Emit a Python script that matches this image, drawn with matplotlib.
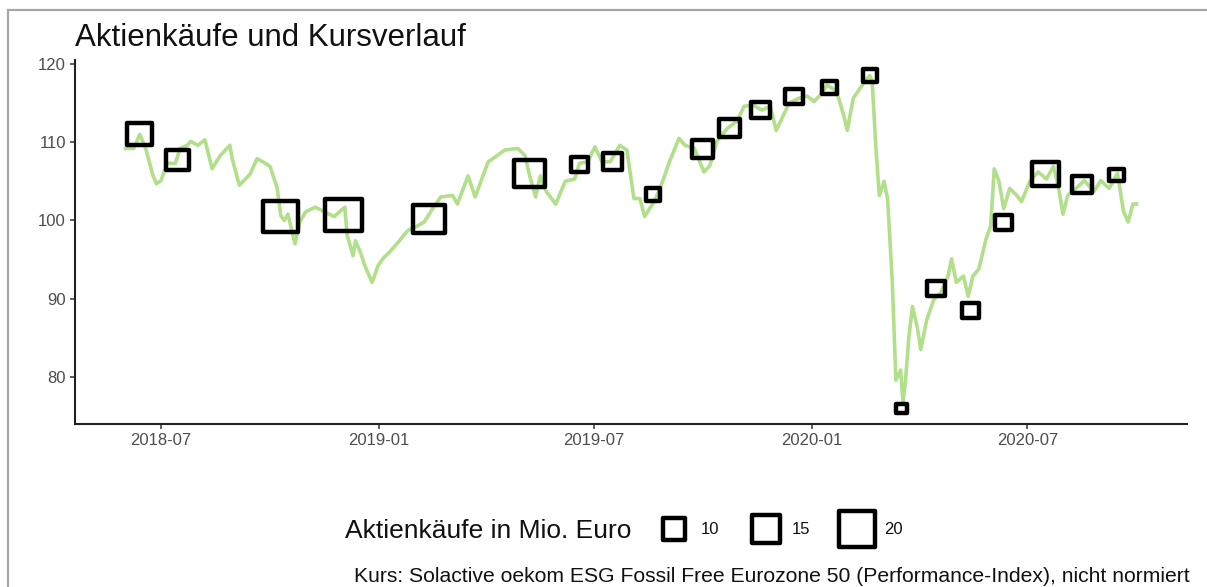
import numpy as np
import pandas as pd
import matplotlib
matplotlib.use('Agg')
from matplotlib import pyplot as plt
from matplotlib.lines import Line2D
from matplotlib.markers import MarkerStyle
from matplotlib.patches import Rectangle
from matplotlib.path import Path
import matplotlib.dates as mdates

plt.rcParams['font.family'] = ['Liberation Sans', 'DejaVu Sans']

# Kursverlauf
kurs_datum = [
    '2018-06-01', '2018-06-08', '2018-06-13', '2018-06-18', '2018-06-24', '2018-06-27',
    '2018-07-01', '2018-07-06', '2018-07-13', '2018-07-17', '2018-07-23', '2018-07-26',
    '2018-08-01', '2018-08-07', '2018-08-13', '2018-08-20', '2018-08-28', '2018-08-30',
    '2018-09-05', '2018-09-14', '2018-09-20', '2018-09-27', '2018-10-01', '2018-10-07',
    '2018-10-10', '2018-10-13', '2018-10-16', '2018-10-22', '2018-10-26', '2018-10-31',
    '2018-11-08', '2018-11-16', '2018-11-24', '2018-12-03', '2018-12-05', '2018-12-10',
    '2018-12-12', '2018-12-16', '2018-12-20', '2018-12-26', '2018-12-31', '2019-01-04',
    '2019-01-10', '2019-01-18', '2019-01-25', '2019-02-01', '2019-02-08', '2019-02-15',
    '2019-02-22', '2019-03-04', '2019-03-08', '2019-03-17', '2019-03-23', '2019-04-03',
    '2019-04-07', '2019-04-17', '2019-04-28', '2019-05-04', '2019-05-08', '2019-05-13',
    '2019-05-17', '2019-05-22', '2019-05-30', '2019-06-07', '2019-06-15', '2019-06-19',
    '2019-06-26', '2019-07-02', '2019-07-08', '2019-07-15', '2019-07-23', '2019-07-29',
    '2019-08-04', '2019-08-09', '2019-08-13', '2019-08-21', '2019-08-26', '2019-09-03',
    '2019-09-11', '2019-09-16', '2019-09-24', '2019-10-02', '2019-10-07', '2019-10-13',
    '2019-10-22', '2019-10-30', '2019-11-05', '2019-11-13', '2019-11-20', '2019-11-27',
    '2019-12-02', '2019-12-08', '2019-12-13', '2019-12-21', '2019-12-28', '2020-01-03',
    '2020-01-08', '2020-01-14', '2020-01-22', '2020-01-28', '2020-01-31', '2020-02-05',
    '2020-02-10', '2020-02-14', '2020-02-19', '2020-02-21', '2020-02-24', '2020-02-27',
    '2020-03-02', '2020-03-05', '2020-03-09', '2020-03-12', '2020-03-16', '2020-03-18',
    '2020-03-20', '2020-03-23', '2020-03-26', '2020-03-30', '2020-04-02', '2020-04-07',
    '2020-04-13', '2020-04-19', '2020-04-25', '2020-04-28', '2020-05-02', '2020-05-08',
    '2020-05-12', '2020-05-16', '2020-05-21', '2020-05-27', '2020-05-31', '2020-06-03',
    '2020-06-07', '2020-06-11', '2020-06-16', '2020-06-22', '2020-06-26', '2020-07-03',
    '2020-07-10', '2020-07-17', '2020-07-23', '2020-07-27', '2020-07-31', '2020-08-04',
    '2020-08-11', '2020-08-18', '2020-08-26', '2020-09-01', '2020-09-08', '2020-09-15',
    '2020-09-20', '2020-09-24', '2020-09-28', '2020-10-01',
]
kurs_wert = [
    109.2, 109.2, 111.0, 109.2, 105.8, 104.7,
    105.1, 107.3, 107.3, 109.2, 109.6, 110.1,
    109.6, 110.3, 106.6, 108.3, 109.6, 107.9,
    104.5, 105.9, 107.9, 107.3, 106.9, 104.1,
    100.6, 100.0, 100.8, 97.0, 99.8, 101.1,
    101.7, 101.1, 100.5, 101.7, 98.1, 95.5,
    97.4, 96.0, 94.2, 92.1, 94.2, 95.1,
    96.0, 97.4, 98.7, 99.2, 99.8, 101.5,
    103.0, 103.2, 102.1, 105.7, 103.0, 107.5,
    107.9, 109.0, 109.2, 108.3, 105.7, 103.0,
    105.7, 103.7, 102.1, 105.0, 105.3, 107.3,
    107.5, 109.4, 107.5, 107.5, 109.6, 109.0,
    102.8, 102.8, 100.5, 102.4, 104.1, 107.5,
    110.5, 109.6, 109.2, 106.2, 107.0, 110.1,
    111.8, 112.7, 114.6, 114.7, 114.1, 114.6,
    111.5, 113.4, 115.0, 115.6, 115.9, 115.2,
    116.0, 117.3, 116.5, 113.4, 111.5, 115.6,
    116.7, 117.6, 118.5, 117.8, 109.6, 103.2,
    105.0, 102.8, 92.1, 79.6, 80.9, 76.8,
    79.3, 85.2, 89.0, 86.4, 83.5, 87.3,
    89.9, 90.8, 92.9, 95.1, 92.1, 92.9,
    90.3, 92.9, 93.8, 97.6, 99.3, 106.6,
    105.0, 101.5, 104.1, 103.2, 102.4, 105.0,
    106.2, 105.3, 106.9, 104.4, 100.8, 103.2,
    104.1, 105.1, 103.7, 105.1, 104.1, 106.0,
    101.2, 99.8, 102.1, 102.1,
]

# Aktienkaeufe
kauf_datum = [
    '2018-06-13', '2018-07-15', '2018-10-10', '2018-12-02', '2019-02-12', '2019-05-08',
    '2019-06-19', '2019-07-17', '2019-08-20', '2019-10-01', '2019-10-24', '2019-11-19',
    '2019-12-17', '2020-01-16', '2020-02-19', '2020-03-17', '2020-04-15', '2020-05-14',
    '2020-06-11', '2020-07-16', '2020-08-16', '2020-09-14',
]
kauf_kurs = [
    111.0, 107.7, 100.5, 100.7, 100.2, 106.0,
    107.1, 107.5, 103.3, 109.1, 111.8, 114.1,
    115.8, 117.0, 118.5, 76.0, 91.3, 88.5,
    99.7, 105.9, 104.6, 105.8,
]
kauf_mio = [
    12.5, 11.0, 20.0, 21.5, 17.0, 17.0,
    8.0, 9.0, 6.5, 10.0, 10.0, 9.0,
    8.0, 6.5, 6.5, 5.0, 8.0, 8.0,
    8.0, 14.0, 9.0, 6.5,
]
legende_mio = [10, 15, 20]

W, H = 1207, 587
GREEN = '#b2df8a'
EDGE_LW = 3.2


def side_pt(v):
    # flaechentreue Groessenskala wie bei ggplot
    return (10.7 * np.sqrt(v) - 12.8) * 0.72


kurs_x = pd.to_datetime(kurs_datum)
kauf_x = pd.to_datetime(kauf_datum)

fig = plt.figure(figsize=(W / 100, H / 100), dpi=100)
ax = fig.add_axes([75 / W, 1 - 424 / H, (1187 - 75) / W, (424 - 60) / H])

ax.plot(kurs_x, kurs_wert, color=GREEN, lw=2.6, solid_joinstyle='round', zorder=2)

rect = Path([(-0.575, -0.5), (0.575, -0.5), (0.575, 0.5), (-0.575, 0.5), (-0.575, -0.5)],
            [Path.MOVETO, Path.LINETO, Path.LINETO, Path.LINETO, Path.CLOSEPOLY])
ax.scatter(kauf_x, kauf_kurs, s=side_pt(np.array(kauf_mio)) ** 2,
           marker=MarkerStyle(rect, joinstyle='round'),
           facecolors='none', edgecolors='black', linewidths=EDGE_LW, zorder=3)

span = kurs_x.max() - kurs_x.min()
ax.set_xlim(kurs_x.min() - span * 0.05, kurs_x.max() + span * 0.05)
ax.set_ylim(74, 120.5)
ax.set_yticks([80, 90, 100, 110, 120])
ax.set_xticks(pd.to_datetime(['2018-07-01', '2019-01-01', '2019-07-01', '2020-01-01', '2020-07-01']))
ax.xaxis.set_major_formatter(mdates.DateFormatter('%Y-%m'))

for s in ['top', 'right']:
    ax.spines[s].set_visible(False)
for s in ['left', 'bottom']:
    ax.spines[s].set_color('#222222')
    ax.spines[s].set_linewidth(1.5)
ax.tick_params(colors='#333333', length=3.5, width=1.1, labelsize=12, labelcolor='#4d4d4d', pad=3)

fig.text(75 / W, 1 - 46 / H, 'Aktienkäufe und Kursverlauf', fontsize=22.5, color='#111111',
         ha='left', va='baseline')

# Legende
fig.text(345 / W, 1 - 538 / H, 'Aktienkäufe in Mio. Euro', fontsize=19, color='#111111',
         ha='left', va='baseline')
handles = [Line2D([], [], linestyle='None', marker=MarkerStyle('s', joinstyle='round'),
                  markersize=side_pt(v), markerfacecolor='none', markeredgecolor='black',
                  markeredgewidth=EDGE_LW) for v in legende_mio]
fig.legend(handles, [str(v) for v in legende_mio], ncol=3, loc='center left',
           bbox_to_anchor=(657 / W, 1 - 530 / H), frameon=False, fontsize=12,
           handlelength=2.0, handletextpad=0.6, columnspacing=1.8,
           borderpad=0, borderaxespad=0, labelcolor='#111111')

fig.text(1190 / W, 1 - 582 / H,
         'Kurs: Solactive oekom ESG Fossil Free Eurozone 50 (Performance-Index), nicht normiert',
         fontsize=15.2, color='#111111', ha='right', va='baseline')

# grauer Rahmen
fig.add_artist(Rectangle((8 / W, -0.1), 1.2, 1.1 - 10 / H, transform=fig.transFigure,
                         fill=False, edgecolor='#a6a6a6', lw=1.6))

fig.savefig('out.png', dpi=100)
